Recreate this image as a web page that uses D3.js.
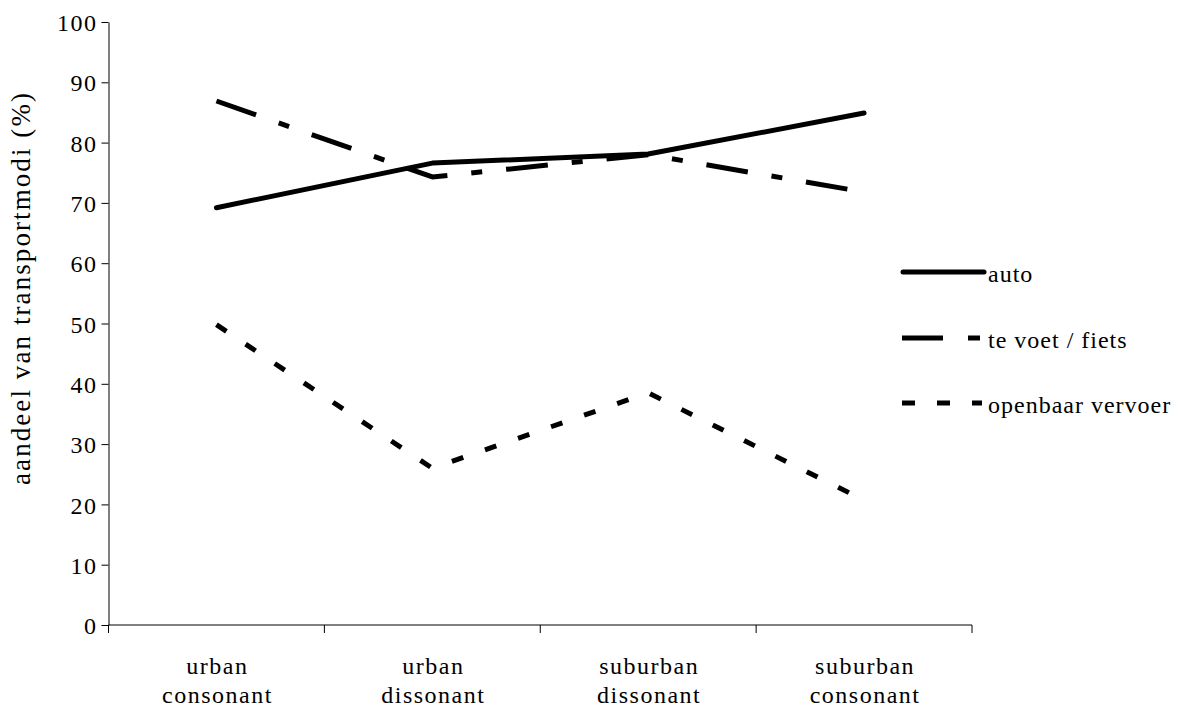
<!DOCTYPE html>
<html><head><meta charset="utf-8">
<script src="https://cdn.jsdelivr.net/npm/d3@7"></script>
<style>body{margin:0;background:#fff}text{font-family:"Liberation Serif","Times New Roman",serif;fill:#000}</style>
</head><body><svg id="c" width="1185" height="708"></svg>
<script>
const categories = [["urban","consonant"],["urban","dissonant"],["suburban","dissonant"],["suburban","consonant"]];
const seriesNames = ["auto","te voet / fiets","openbaar vervoer"];
const auto = [69.2, 76.6, 78.1, 84.9];
const voetFiets = [86.9, 74.3, 78.0, 71.8];
const ov = [49.8, 26.0, 38.5, 20.7];
const yTicks = [0,10,20,30,40,50,60,70,80,90,100];
const yLabel = "aandeel van transportmodi (%)";

const svg = d3.select("#c");
const L=108.5, R=972, T=22, B=625;
const x = d3.scaleBand().domain(d3.range(categories.length)).range([L,R]);
const y = d3.scaleLinear().domain([0,100]).range([B,T]);

// y axis
const ya = svg.append("g").attr("transform",`translate(${L},0)`)
  .call(d3.axisLeft(y).tickValues(yTicks).tickSize(7).tickPadding(4).tickSizeOuter(0));
ya.select(".domain").attr("stroke","#000");
ya.selectAll("text").style("font-size","24px").style("font-family","Liberation Serif")
  .style("letter-spacing","1.5px").attr("dy","0.36em");
// x axis
const xa = svg.append("g").attr("transform",`translate(0,${B})`);
xa.append("line").attr("x1",L).attr("x2",R).attr("stroke","#000");
const bounds = [L, ...categories.map((c,i)=>x(i)+x.bandwidth())];
xa.selectAll("line.t").data(bounds).enter().append("line").attr("class","t")
  .attr("x1",d=>d).attr("x2",d=>d).attr("y1",0).attr("y2",8).attr("stroke","#000");
categories.forEach((c,i)=>{
  const cx = x(i)+x.bandwidth()/2 + 1;
  const t = xa.append("text").attr("text-anchor","middle")
    .style("font-size","24px").style("letter-spacing","1.5px");
  t.append("tspan").attr("x",cx).attr("y",49).text(c[0]);
  t.append("tspan").attr("x",cx).attr("y",78).text(c[1]);
});
svg.append("text").attr("transform",`translate(30,289) rotate(-90)`)
  .attr("text-anchor","middle").style("font-size","27px")
  .attr("textLength",392).attr("lengthAdjust","spacing").text(yLabel);

const styles = [
  {data:auto, dash:null},
  {data:voetFiets, dash:"42,24,11,24"},
  {data:ov, dash:"12,23"}
];
const line = d3.line().x((d,i)=>x(i)+x.bandwidth()/2).y(d=>y(d));
styles.forEach(s=>{
  svg.append("path").attr("d",line(s.data)).attr("fill","none").attr("stroke","#000")
    .attr("stroke-width",5).attr("stroke-dasharray",s.dash).attr("stroke-linecap",s.dash?"butt":"round")
    .attr("stroke-linejoin","round");
});
// legend
const legY = [272, 338, 403];
const legDash = [null, "41,25,12,25", "13,22"];
seriesNames.forEach((n,i)=>{
  svg.append("line").attr("x1",i?902:903).attr("x2",i?982:984).attr("y1",legY[i]).attr("y2",legY[i])
    .attr("stroke","#000").attr("stroke-width",5).attr("stroke-dasharray",legDash[i])
    .attr("stroke-linecap",legDash[i]?"butt":"round");
  svg.append("text").attr("x",988).attr("y",legY[i]+9.5).style("font-size","24px")
    .style("letter-spacing","1px").text(n);
});
</script></body></html>
